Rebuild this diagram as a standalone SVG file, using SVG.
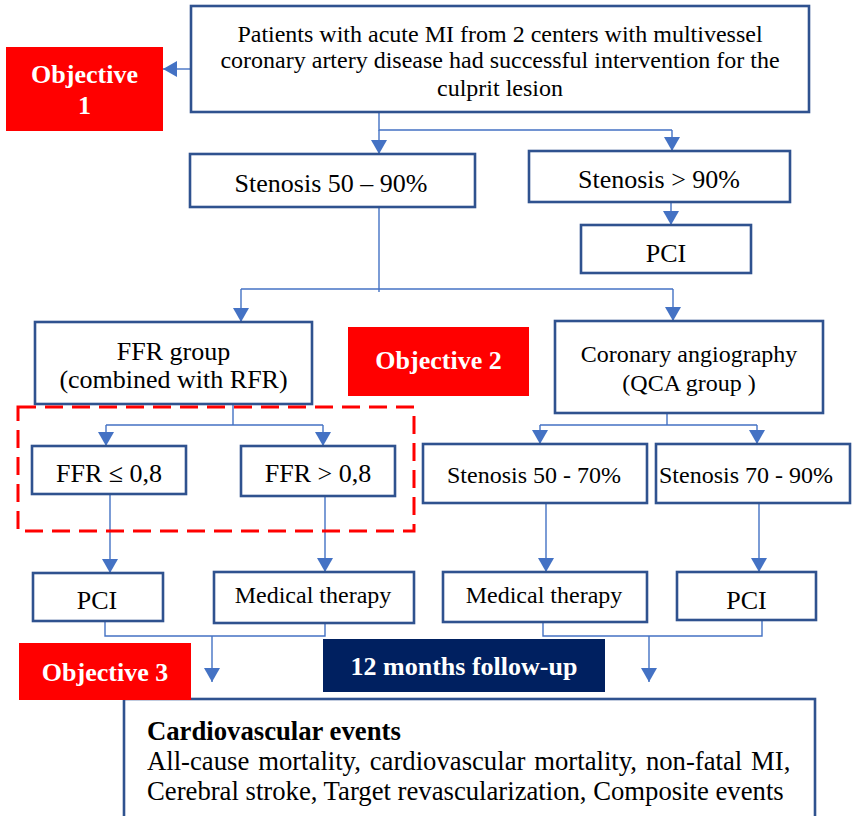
<svg xmlns="http://www.w3.org/2000/svg" width="852" height="816" viewBox="0 0 852 816">
<style>
.box{fill:#fff;stroke:#2F528F;stroke-width:2.6}
.t{font-family:"Liberation Serif","Times New Roman",serif;fill:#000;text-anchor:middle}
.s26{font-size:26px}
.s24{font-size:24px}
.b{font-family:"Liberation Serif","Times New Roman",serif;fill:#000;font-size:26.7px}
.obj{fill:#FF0000}
.w{font-family:"Liberation Serif","Times New Roman",serif;fill:#fff;font-weight:bold;font-size:26px;text-anchor:middle}
.c{fill:none;stroke:#4472C4;stroke-width:1.4}
</style>
<defs>
<marker id="ah" markerUnits="userSpaceOnUse" markerWidth="14" markerHeight="16" refX="14" refY="8" orient="auto" viewBox="0 0 14 16">
<path d="M0,0 L14,8 L0,16 z" fill="#4472C4"/>
</marker>
</defs>
<g id="connectors">
<path class="c" d="M191,69 L163,69" marker-end="url(#ah)"/>
<path class="c" d="M379,112 L379,130 L672,130"/>
<path class="c" d="M379,130 L379,154" marker-end="url(#ah)"/>
<path class="c" d="M672,130 L672,151" marker-end="url(#ah)"/>
<path class="c" d="M671,202 L671,225" marker-end="url(#ah)"/>
<path class="c" d="M379,207 L379,292"/>
<path class="c" d="M241,289 L673,289"/>
<path class="c" d="M241,289 L241,322" marker-end="url(#ah)"/>
<path class="c" d="M673,289 L673,321" marker-end="url(#ah)"/>
<path class="c" d="M233,404 L233,425 M106,425 L323,425"/>
<path class="c" d="M106,425 L106,446" marker-end="url(#ah)"/>
<path class="c" d="M323,425 L323,446" marker-end="url(#ah)"/>
<path class="c" d="M667,413 L667,425 M540,425 L757,425"/>
<path class="c" d="M540,425 L540,444" marker-end="url(#ah)"/>
<path class="c" d="M757,425 L757,444" marker-end="url(#ah)"/>
<path class="c" d="M110,494 L110,573" marker-end="url(#ah)"/>
<path class="c" d="M325,496 L325,572" marker-end="url(#ah)"/>
<path class="c" d="M546,503 L546,572" marker-end="url(#ah)"/>
<path class="c" d="M759,503 L759,572" marker-end="url(#ah)"/>
<path class="c" d="M105,621 L105,636 L325,636 L325,623"/>
<path class="c" d="M212,636 L212,682" marker-end="url(#ah)"/>
<path class="c" d="M543,622 L543,636 L762,636 L762,620"/>
<path class="c" d="M649,636 L649,682" marker-end="url(#ah)"/>
</g>
<g id="n-top">
<rect class="box" x="191" y="6" width="618" height="106"/>
<text class="t s24" x="500" y="41.5">Patients with acute MI from 2 centers with multivessel</text>
<text class="t s24" x="500" y="68">coronary artery disease had successful intervention for the</text>
<text class="t s24" x="500" y="96">culprit lesion</text>
</g>
<g id="n-obj1">
<rect class="obj" x="6" y="47" width="157" height="84"/>
<text class="w" x="84.5" y="83">Objective</text>
<text class="w" x="84.5" y="114">1</text>
</g>
<g id="n-st5090">
<rect class="box" x="190" y="154" width="285" height="53"/>
<text class="t s26" x="331" y="192">Stenosis 50 – 90%</text>
</g>
<g id="n-st90">
<rect class="box" x="529" y="151" width="261" height="51"/>
<text class="t s26" x="659" y="188">Stenosis &gt; 90%</text>
</g>
<g id="n-pci0">
<rect class="box" x="581" y="225" width="170" height="48"/>
<text class="t s26" x="666" y="262">PCI</text>
</g>
<g id="n-ffr">
<rect class="box" x="35" y="322" width="277" height="82"/>
<text class="t s26" x="173.5" y="360">FFR group</text>
<text class="t s26" x="173.5" y="388">(combined with RFR)</text>
</g>
<g id="n-obj2">
<rect class="obj" x="348" y="327" width="181" height="69"/>
<text class="w" x="438.5" y="369">Objective 2</text>
</g>
<g id="n-cag">
<rect class="box" x="555" y="321" width="268" height="92"/>
<text class="t s24" x="689" y="362">Coronary angiography</text>
<text class="t s24" x="689" y="391">(QCA group )</text>
</g>
<g id="n-dashed">
<rect x="18" y="407" width="396" height="124" fill="none" stroke="#FF0000" stroke-width="3" stroke-dasharray="18 9"/>
</g>
<g id="n-ffrle">
<rect class="box" x="32" y="446" width="154" height="48"/>
<text class="t s26" x="109" y="482">FFR ≤ 0,8</text>
</g>
<g id="n-ffrgt">
<rect class="box" x="241" y="446" width="154" height="50"/>
<text class="t s26" x="318" y="482">FFR &gt; 0,8</text>
</g>
<g id="n-st5070">
<rect class="box" x="423" y="444" width="224" height="59"/>
<text class="t s24" x="534" y="483">Stenosis 50 - 70%</text>
</g>
<g id="n-st7090">
<rect class="box" x="656" y="444" width="194" height="59"/>
<text class="t s24" x="746" y="483">Stenosis 70 - 90%</text>
</g>
<g id="n-pci1">
<rect class="box" x="33" y="573" width="130" height="48"/>
<text class="t s26" x="97" y="609">PCI</text>
</g>
<g id="n-med1">
<rect class="box" x="214" y="572" width="200" height="51"/>
<text class="t s24" x="313" y="603">Medical therapy</text>
</g>
<g id="n-med2">
<rect class="box" x="443" y="572" width="204" height="50"/>
<text class="t s24" x="544" y="603">Medical therapy</text>
</g>
<g id="n-pci2">
<rect class="box" x="677" y="572" width="139" height="48"/>
<text class="t s26" x="746.5" y="609">PCI</text>
</g>
<g id="n-events">
<rect class="box" x="124" y="699" width="691" height="130"/>
<text class="b" x="147" y="740" font-weight="bold">Cardiovascular events</text>
<text class="b" x="147" y="770" word-spacing="2.2">All-cause mortality, cardiovascular mortality, non-fatal MI,</text>
<text class="b" x="147" y="800">Cerebral stroke, Target revascularization, Composite events</text>
</g>
<g id="n-follow">
<rect x="323" y="639" width="282" height="53" fill="#002060"/>
<text class="w" x="464" y="675">12 months follow-up</text>
</g>
<g id="n-obj3">
<rect class="obj" x="19" y="643" width="172" height="57"/>
<text class="w" x="105" y="681">Objective 3</text>
</g>
</svg>
